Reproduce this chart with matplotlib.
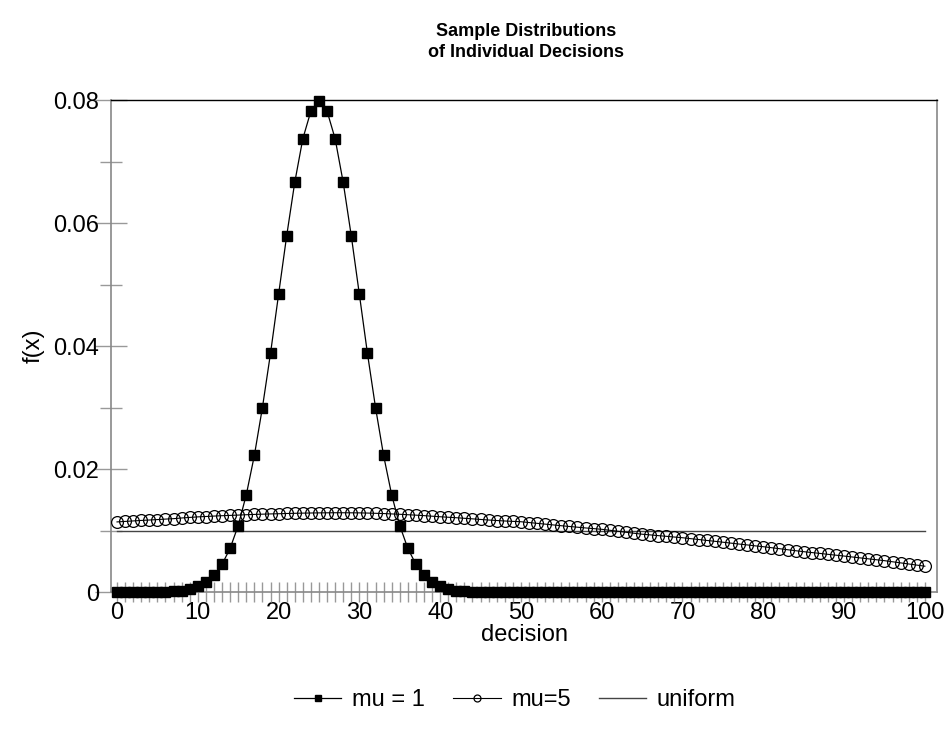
import numpy as np
import matplotlib.pyplot as plt

plt.rcParams['font.family'] = ['Liberation Sans', 'DejaVu Sans']

# decisoes 0..100
decisao = list(range(0, 101))

# mu = 1
mu1 = [0.0000, 0.0000, 0.0000, 0.0000, 0.0000, 0.0000, 0.0000, 0.0001, 0.0002, 0.0005,
       0.0009, 0.0016, 0.0027, 0.0045, 0.0071, 0.0108, 0.0158, 0.0222, 0.0300, 0.0388,
       0.0484, 0.0579, 0.0666, 0.0737, 0.0782, 0.0798, 0.0782, 0.0737, 0.0666, 0.0579,
       0.0484, 0.0388, 0.0300, 0.0222, 0.0158, 0.0108, 0.0071, 0.0045, 0.0027, 0.0016,
       0.0009, 0.0005, 0.0002, 0.0001] + [0.0000] * 57

# mu = 5
mu5 = [0.01140, 0.01148, 0.01156, 0.01164, 0.01171, 0.01178, 0.01186, 0.01193, 0.01204, 0.01213,
       0.01222, 0.01228, 0.01235, 0.01241, 0.01246, 0.01251, 0.01257, 0.01262, 0.01266, 0.01270,
       0.01273, 0.01277, 0.01280, 0.01283, 0.01285, 0.01287, 0.01288, 0.01289, 0.01289, 0.01288,
       0.01287, 0.01284, 0.01280, 0.01276, 0.01270, 0.01264, 0.01257, 0.01250, 0.01242, 0.01233,
       0.01224, 0.01216, 0.01208, 0.01199, 0.01190, 0.01180, 0.01171, 0.01163, 0.01155, 0.01149,
       0.01143, 0.01130, 0.01117, 0.01104, 0.01091, 0.01078, 0.01066, 0.01054, 0.01042, 0.01031,
       0.01020, 0.01004, 0.00988, 0.00972, 0.00956, 0.00940, 0.00929, 0.00917, 0.00906, 0.00894,
       0.00883, 0.00868, 0.00854, 0.00839, 0.00825, 0.00810, 0.00795, 0.00780, 0.00766, 0.00751,
       0.00737, 0.00721, 0.00705, 0.00688, 0.00672, 0.00656, 0.00642, 0.00628, 0.00613, 0.00599,
       0.00585, 0.00570, 0.00555, 0.00540, 0.00525, 0.00510, 0.00492, 0.00474, 0.00456, 0.00438,
       0.00420]

uniforme = [0.01] * 101

fig = plt.figure(figsize=(9.45, 7.3), dpi=100)
ax = fig.add_axes([0.1175, 0.189, 0.874, 0.674])

ax.plot(decisao, uniforme, color='#444444', lw=1.0, label='uniform', zorder=2)
ax.plot(decisao, mu5, color='black', lw=0.8, marker='o', ms=8.5, mfc='none', mec='black',
        mew=0.9, label='mu=5', clip_on=False, zorder=3)
ax.plot(decisao, mu1, color='black', lw=0.9, marker='s', ms=7.5, mfc='black', mec='black',
        label='mu = 1', clip_on=False, zorder=4)

ax.set_xlim(-0.74, 101.5)
ax.set_ylim(0, 0.08)

ax.set_xticks(range(0, 101, 10))
ax.set_xticks(range(0, 101, 1), minor=True)
ax.set_yticks([0, 0.02, 0.04, 0.06, 0.08])
ax.set_yticklabels(['0', '0.02', '0.04', '0.06', '0.08'])
ax.set_yticks([0.01, 0.03, 0.05, 0.07], minor=True)

ax.tick_params(axis='x', which='both', direction='inout', length=15, width=1,
               color='#999999', labelsize=17, pad=0)
ax.tick_params(axis='y', which='major', direction='inout', length=23, width=1,
               color='#999999', labelsize=17, pad=-3)
ax.tick_params(axis='y', which='minor', direction='inout', length=16, width=1,
               color='#999999')

for lado in ['left', 'bottom', 'right']:
    ax.spines[lado].set_color('#888888')
    ax.spines[lado].set_linewidth(1.2)
ax.spines['top'].set_color('black')
ax.spines['top'].set_linewidth(1.0)

ax.set_xlabel('decision', fontsize=17, labelpad=0)
ax.set_ylabel('f(x)', fontsize=17, labelpad=6)

fig.text(0.557, 0.943, 'Sample Distributions\nof Individual Decisions', ha='center', va='center',
         fontsize=13, fontweight='bold', linespacing=1.3)

handles, labels = ax.get_legend_handles_labels()
ordem = [2, 1, 0]
leg = fig.legend([handles[i] for i in ordem], [labels[i] for i in ordem], loc='center',
                 bbox_to_anchor=(0.545, 0.041), ncol=3, frameon=False, fontsize=17,
                 handlelength=2.0, columnspacing=1.2, handletextpad=0.45)
for h in leg.legend_handles:
    h.set_markersize(5)

plt.savefig('out.png', dpi=100)
